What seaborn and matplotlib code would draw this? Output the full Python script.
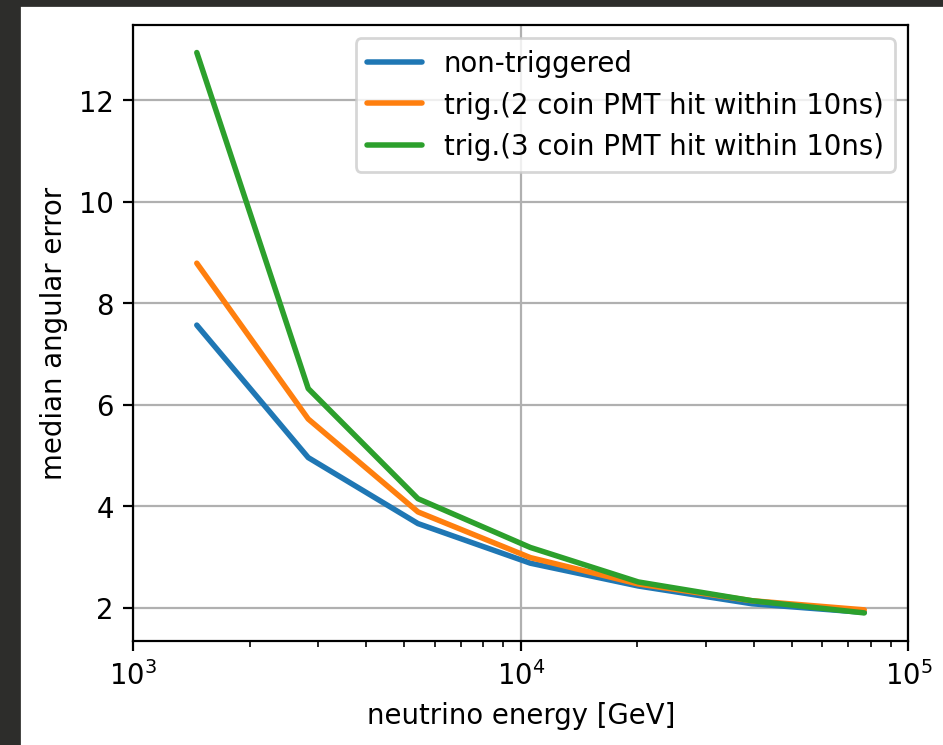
import matplotlib
matplotlib.use("Agg")
import matplotlib.pyplot as plt
from matplotlib.patches import Rectangle
import seaborn as sns
import pandas as pd

# Neutrino energy bins [GeV] and median angular error per selection
energy = [1460, 2830, 5430, 10580, 20100, 39500, 76900]
non_triggered = [7.57, 4.96, 3.66, 2.88, 2.43, 2.08, 1.91]
trig_2coin = [8.79, 5.72, 3.89, 2.99, 2.47, 2.14, 1.96]
trig_3coin = [12.94, 6.32, 4.15, 3.19, 2.51, 2.14, 1.90]

labels = ["non-triggered",
          "trig.(2 coin PMT hit within 10ns)",
          "trig.(3 coin PMT hit within 10ns)"]
colors = ["#1f77b4", "#ff7f0e", "#2ca02c"]

df = pd.DataFrame({
    "energy": energy * 3,
    "error": non_triggered + trig_2coin + trig_3coin,
    "selection": [labels[0]] * len(energy) + [labels[1]] * len(energy)
                 + [labels[2]] * len(energy),
})

sns.set_style("ticks")
plt.rcParams.update({
    "font.family": ["DejaVu Sans"],
    "font.size": 10,
    "text.color": "black",
    "axes.labelcolor": "black",
    "axes.linewidth": 0.8,
    "axes.edgecolor": "black",
    "xtick.color": "black",
    "ytick.color": "black",
    "xtick.labelcolor": "black",
    "ytick.labelcolor": "black",
    "xtick.direction": "out",
    "ytick.direction": "out",
    "xtick.major.size": 3.5,
    "ytick.major.size": 3.5,
    "xtick.minor.size": 2,
    "xtick.major.width": 0.8,
    "ytick.major.width": 0.8,
    "xtick.minor.width": 0.6,
    "grid.color": "#b0b0b0",
    "grid.linewidth": 0.8,
    "legend.fontsize": 10,
})

DPI = 198
fig = plt.figure(figsize=(943.5 / DPI, 745.5 / DPI), dpi=DPI)
ax = fig.add_axes([133 / 943, 1 - 641 / 745, (908 - 133) / 943, (641 - 25) / 745])

for lab, col in zip(labels, colors):
    sub = df[df["selection"] == lab]
    sns.lineplot(data=sub, x="energy", y="error", color=col, label=lab,
                 linewidth=2, ax=ax)

ax.set_xscale("log")
ax.set_xlim(1e3, 1e5)
ax.set_yticks([2, 4, 6, 8, 10, 12])
ax.grid(True, which="major")
ax.set_axisbelow(True)
ax.set_xlabel("neutrino energy [GeV]")
ax.set_ylabel("median angular error")
ax.legend(loc="upper right", framealpha=0.8)
for s in ax.spines.values():
    s.set_visible(True)

# dark frame strips along the left and top edges
fig.patches.append(Rectangle((0, 0), 19 / 943, 1, transform=fig.transFigure,
                             color="#2d2d2b", zorder=-1))
fig.patches.append(Rectangle((0, 1 - 5 / 745), 1, 5 / 745, transform=fig.transFigure,
                             color="#2d2d2b", zorder=-1))

fig.savefig("out.png", dpi=DPI)
